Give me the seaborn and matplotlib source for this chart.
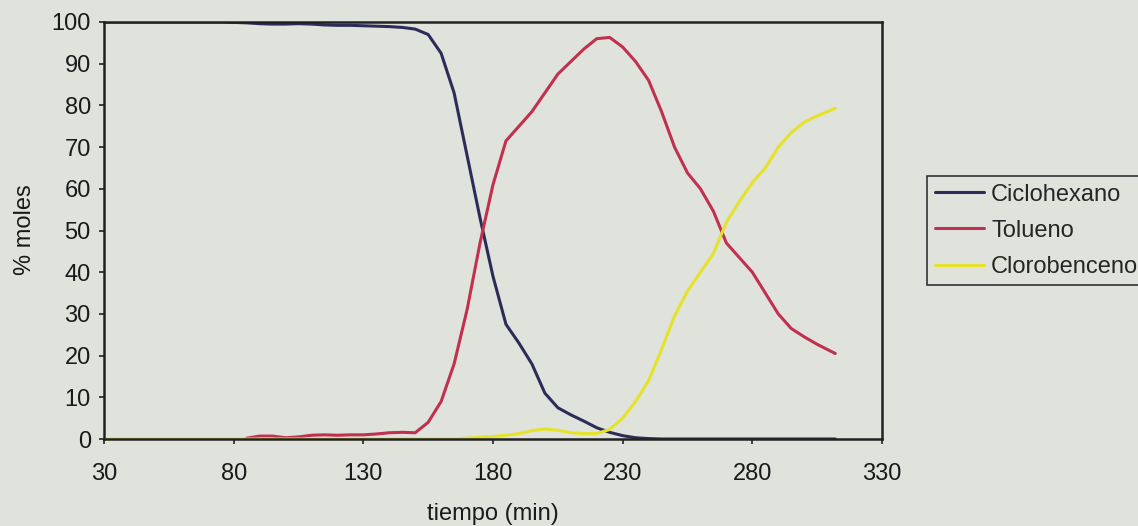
import numpy as np
import pandas as pd
import matplotlib
matplotlib.use("Agg")
import matplotlib.pyplot as plt
import seaborn as sns

tiempo = [30, 35, 40, 45, 50, 55, 60, 65, 70, 75, 80,
          85, 90, 95, 100, 105, 110, 115, 120, 125, 130, 135, 140, 145, 150,
          155, 160, 165, 170, 175, 180, 185, 190, 195, 200, 205, 210, 215, 220,
          225, 230, 235, 240, 245, 250, 255, 260, 265, 270, 275, 280, 285, 290,
          295, 300, 305, 312]

ciclohexano = [100, 100, 100, 100, 100, 100, 100, 100, 100, 100, 99.9,
               99.8, 99.6, 99.5, 99.5, 99.6, 99.5, 99.3, 99.2, 99.2, 99.1, 99.0, 98.9, 98.7, 98.3,
               97, 92.5, 83, 68, 53, 39, 27.5, 23, 18, 11, 7.5, 5.8, 4.3, 2.7,
               1.6, 0.8, 0.3, 0.1, 0, 0, 0, 0, 0, 0, 0, 0, 0, 0,
               0, 0, 0, 0]

tolueno = [np.nan] * 11 + [
    0.2, 0.7, 0.7, 0.3, 0.5, 0.9, 1.0, 0.9, 1.0, 1.0, 1.2, 1.5, 1.6, 1.5,
    4, 9, 18, 31, 47, 61, 71.5, 75, 78.5, 83, 87.5, 90.5, 93.5, 96,
    96.3, 94, 90.5, 86, 78.5, 70, 63.8, 60, 54.6, 47, 43.5, 40, 35, 30,
    26.5, 24.5, 22.7, 20.5]

clorobenceno = [0] * 28 + [
    0.2, 0.4, 0.6, 0.9, 1.3, 2.0, 2.4, 2.1, 1.5, 1.3, 1.3,
    2.3, 5, 9, 14, 21.5, 29.5, 35.5, 40, 44.5, 52, 57, 61.5, 65, 70,
    73.5, 76, 77.5, 79.3]

series_names = ["Ciclohexano", "Tolueno", "Clorobenceno"]
colors = ["#2d2c58", "#c2304f", "#e6e22a"]

df = pd.DataFrame({
    "tiempo": tiempo * 3,
    "valor": ciclohexano + tolueno + clorobenceno,
    "serie": [series_names[0]] * len(tiempo) + [series_names[1]] * len(tiempo) + [series_names[2]] * len(tiempo),
})

sns.set_theme(style="white")
plt.rcParams["font.family"] = ["Liberation Sans", "DejaVu Sans"]

bg = "#dfe3dc"
fig = plt.figure(figsize=(11.38, 5.26), dpi=100, facecolor=bg)
ax = fig.add_axes([104 / 1138, 1 - 439 / 526, (882 - 104) / 1138, (439 - 22) / 526])
ax.set_facecolor(bg)

sns.lineplot(data=df, x="tiempo", y="valor", hue="serie", hue_order=series_names,
             palette=colors, linewidth=2.2, ax=ax, legend=True)

ax.set_xlim(30, 330)
ax.set_ylim(0, 100)
ax.set_xticks([30, 80, 130, 180, 230, 280, 330])
ax.set_yticks(range(0, 101, 10))
ax.tick_params(axis="both", which="major", direction="out", length=3.5, width=1.2,
               color="#222222", labelsize=17, labelcolor="#1a1a1a", pad=6, bottom=True, left=True)
ax.tick_params(axis="x", pad=14)
for s in ax.spines.values():
    s.set_color("#222222")
    s.set_linewidth(1.8)
    s.set_visible(True)

ax.set_xlabel("tiempo (min)", fontsize=17, color="#1a1a1a", va="center")
ax.set_ylabel("% moles", fontsize=17, color="#1a1a1a", va="center")
ax.xaxis.set_label_coords(0.5, (439 - 514) / 417)
ax.yaxis.set_label_coords((25 - 104) / 778, (439 - 230) / 417)

ax.get_legend().remove()
handles, labels = ax.get_legend_handles_labels()
leg = fig.legend(handles, labels, loc="upper left", bbox_to_anchor=(927 / 1138, 1 - 176 / 526),
                 bbox_transform=fig.transFigure, frameon=True, fontsize=17, handlelength=2.1,
                 handletextpad=0.3, labelspacing=0.6, borderpad=0.32, borderaxespad=0,
                 fancybox=False, framealpha=1)
leg.get_frame().set_facecolor(bg)
leg.get_frame().set_edgecolor("#333333")
leg.get_frame().set_linewidth(1.2)
for line in leg.get_lines():
    line.set_linewidth(2.2)

fig.savefig("out.png", dpi=100, facecolor=bg)
